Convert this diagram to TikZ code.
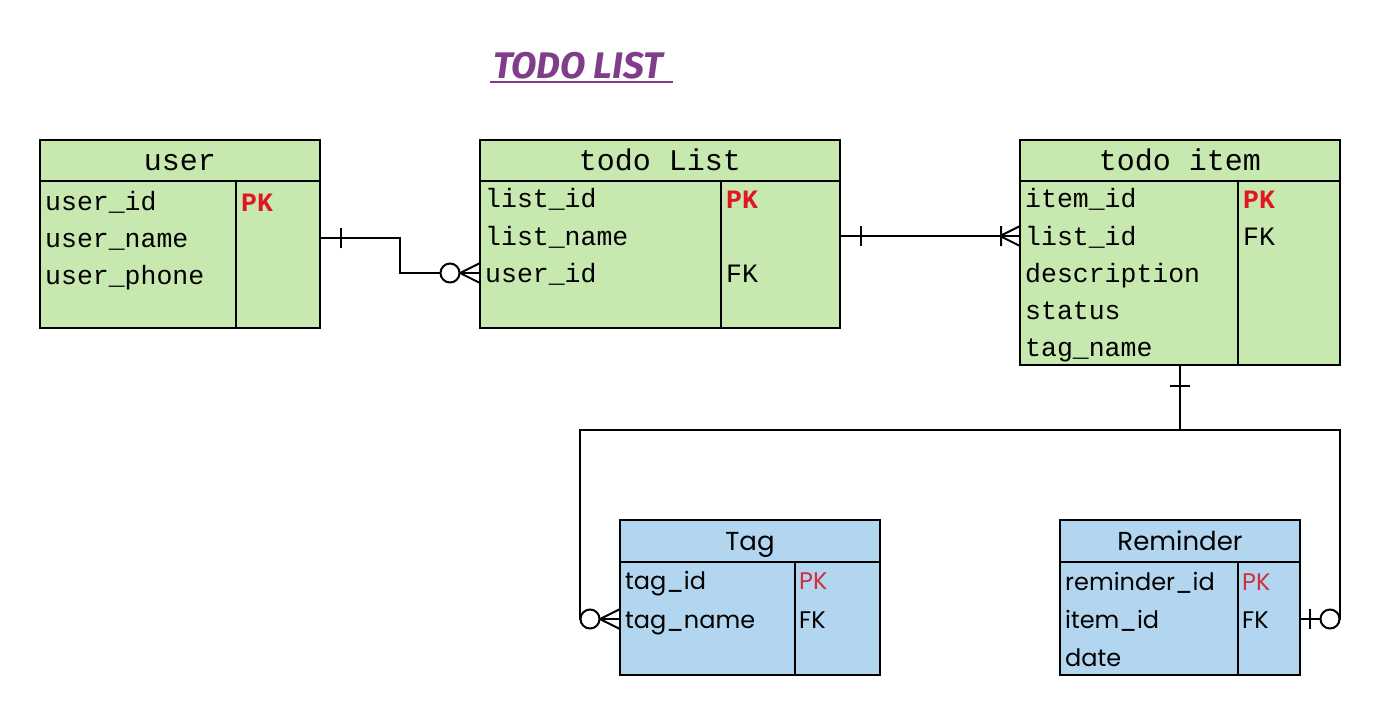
\documentclass[tikz,border=0pt]{standalone}
\usepackage{fontspec}
\newfontfamily\monof{Liberation Mono}
\newfontfamily\roundf{Poppins}
\newfontfamily\titlef{Fira Sans}
\usetikzlibrary{calc}
\usetikzlibrary{decorations.markings}
\definecolor{tblgreen}{RGB}{199,232,174}
\definecolor{tblblue}{RGB}{178,214,239}
\definecolor{pkred}{RGB}{226,22,34}
\definecolor{pksoft}{RGB}{208,48,60}
\definecolor{ttlpurple}{RGB}{128,62,138}

\tikzset{
  tline/.style={line width=2pt},
  ghead/.style={draw, tline, fill=tblgreen, anchor=north west, inner sep=0pt, outer sep=0pt,
    text height=20pt, text depth=1pt, font=\monof\fontsize{30}{36}\selectfont},
  gbody/.style={draw, tline, fill=tblgreen, anchor=north west, inner sep=0pt, outer sep=0pt},
  bhead/.style={draw, tline, fill=tblblue, anchor=north west, inner sep=0pt, outer sep=0pt,
    text height=19pt, text depth=1pt, font=\roundf\fontsize{26}{32}\selectfont},
  bbody/.style={draw, tline, fill=tblblue, anchor=north west, inner sep=0pt, outer sep=0pt},
  gfld/.style={anchor=west, inner sep=0pt, text height=21pt, text depth=3pt,
    font=\monof\fontsize{26.5}{32}\selectfont},
  gpk/.style={gfld, text=pkred, font=\monof\bfseries\fontsize{26.5}{32}\selectfont},
  bfld/.style={anchor=west, inner sep=0pt, text height=21pt, text depth=3pt,
    font=\roundf\fontsize{24}{30}\selectfont},
  bpk/.style={bfld, text=pksoft},
  rel/.style={tline},
  oneS/.style={postaction={decorate, decoration={markings,
    mark=at position 21pt with {\draw[tline] (0,-10pt) -- (0,10pt);}}}},
  zmanyE/.style={postaction={decorate, decoration={markings,
    mark=at position 1 with {\draw[tline] (-20pt,0) -- (0,10pt) (-20pt,0) -- (0,-10pt);
      \draw[tline, fill=white] (-30pt,0) circle (9.5pt);}}}},
  onemanyE/.style={postaction={decorate, decoration={markings,
    mark=at position 1 with {\draw[tline] (-20pt,0) -- (0,10pt) (-20pt,0) -- (0,-10pt)
      (-19pt,-10pt) -- (-19pt,10pt);}}}},
  zoneE/.style={postaction={decorate, decoration={markings,
    mark=at position 1 with {\draw[tline] (-10pt,-10pt) -- (-10pt,10pt);
      \draw[tline, fill=white] (-30pt,0) circle (9.5pt);}}}}
}

\begin{document}
\begin{tikzpicture}[x=1pt,y=-1pt]
  \useasboundingbox (0,0) rectangle (1382,716);

  % title
  \node[text=ttlpurple, inner sep=0pt, font=\titlef\bfseries\itshape\fontsize{37}{40}\selectfont] (ttl) at (578,66) {TODO LIST};
  \draw[ttlpurple, line width=1.2pt] (490,82) -- (673,82);

  % user
  \node[ghead, minimum width=280pt, minimum height=41pt] (user) at (40,140) {user};
  \node[gbody, minimum width=280pt, minimum height=147pt] (userB) at (40,181) {};
  \draw[tline] (236,181) -- (236,328);
  \node[gfld] (uid) at (45,201) {user\_id};
  \node[gfld] (uname) at (45,238) {user\_name};
  \node[gfld] (uphone) at (45,275) {user\_phone};
  \node[gpk] (upk) at (241,202) {PK};

  % todo List
  \node[ghead, minimum width=360pt, minimum height=41pt] (list) at (480,140) {todo List};
  \node[gbody, minimum width=360pt, minimum height=147pt] (listB) at (480,181) {};
  \draw[tline] (721,181) -- (721,328);
  \node[gfld] (lid) at (485,198) {list\_id};
  \node[gfld] (lname) at (485,236) {list\_name};
  \node[gfld] (luser) at (485,273) {user\_id};
  \node[gpk] (lpk) at (726,199) {PK};
  \node[gfld] (lfk) at (726,273) {FK};

  % todo item
  \node[ghead, minimum width=320pt, minimum height=41pt] (item) at (1020,140) {todo item};
  \node[gbody, minimum width=320pt, minimum height=184pt] (itemB) at (1020,181) {};
  \draw[tline] (1238,181) -- (1238,365);
  \node[gfld] (iid) at (1025,198) {item\_id};
  \node[gfld] (ilist) at (1025,236) {list\_id};
  \node[gfld] (idesc) at (1025,273) {description};
  \node[gfld] (istat) at (1025,310) {status};
  \node[gfld] (itag) at (1025,347) {tag\_name};
  \node[gpk] (ipk) at (1243,199) {PK};
  \node[gfld] (ifk) at (1243,236) {FK};

  % Tag
  \node[bhead, minimum width=260pt, minimum height=42pt] (tag) at (620,520) {Tag};
  \node[bbody, minimum width=260pt, minimum height=113pt] (tagB) at (620,562) {};
  \draw[tline] (795,562) -- (795,675);
  \node[bfld] (tid) at (625,580) {tag\_id};
  \node[bfld] (tname) at (625,619) {tag\_name};
  \node[bpk] (tpk) at (799,580) {PK};
  \node[bfld] (tfk) at (799,619) {FK};

  % Reminder
  \node[bhead, minimum width=240pt, minimum height=42pt] (rem) at (1060,520) {Reminder};
  \node[bbody, minimum width=240pt, minimum height=113pt] (remB) at (1060,562) {};
  \draw[tline] (1238,562) -- (1238,675);
  \node[bfld] (rid) at (1065,581) {reminder\_id};
  \node[bfld] (ritem) at (1065,619) {item\_id};
  \node[bfld] (rdate) at (1065,657) {date};
  \node[bpk] (rpk) at (1242,581) {PK};
  \node[bfld] (rfk) at (1242,619) {FK};

  % relations
  \coordinate (fork) at (1180,430);
  \draw[rel, oneS, zmanyE] (userB.east |- uname) -- ++(80,0) |- (listB.west |- luser);
  \draw[rel, oneS, onemanyE] (listB.east |- lname) -- (itemB.west |- ilist);
  \draw[rel, oneS, zmanyE] (itemB.south) -- (fork) -| ($(tagB.west |- tname)+(-40,0)$) -- (tagB.west |- tname);
  \draw[rel, zoneE] (fork) -| ($(remB.east |- ritem)+(40,0)$) -- (remB.east |- ritem);
\end{tikzpicture}
\end{document}
